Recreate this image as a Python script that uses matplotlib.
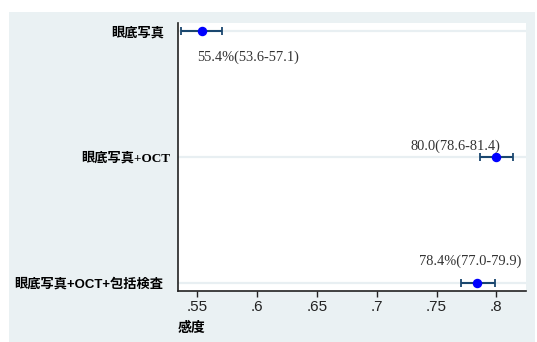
import matplotlib
matplotlib.use("Agg")
import matplotlib.pyplot as plt
from matplotlib.patches import Rectangle
from matplotlib.transforms import ScaledTranslation

# Sensitivity estimates with 95% confidence intervals
categories = ['眼底写真', '眼底写真+OCT', '眼底写真+OCT+包括検査']
sensitivity = [0.554, 0.800, 0.784]
ci_low = [0.536, 0.786, 0.770]
ci_high = [0.571, 0.814, 0.799]
value_labels = ['55.4%(53.6-57.1)', '80.0(78.6-81.4)', '78.4%(77.0-79.9)']

x_ticks = [0.55, 0.6, 0.65, 0.7, 0.75, 0.8]
x_tick_labels = ['.55', '.6', '.65', '.7', '.75', '.8']

# label anchors (x, y offset from row, horizontal alignment)
label_x = [0.55, 0.8033, 0.821]
label_dy = [0.206, -0.087, -0.17]
label_ha = ['left', 'right', 'right']

cjk = 'Noto Sans CJK JP'
label_fonts = [[cjk], ['Liberation Serif', cjk], ['Liberation Sans', cjk]]
label_shift_px = [0, 6, -1]

W, H = 537, 342
fig = plt.figure(figsize=(W / 100, H / 100), dpi=100)
fig.patch.set_facecolor('white')

# graph region background
bg = Rectangle((9 / W, 0), (535 - 9) / W, (342 - 12) / H,
               transform=fig.transFigure, facecolor='#eaf1f3',
               edgecolor='none', zorder=-10)
fig.patches.append(bg)

left, right, top, bottom = 178, 525.5, 23, 290.7
ax = fig.add_axes([left / W, (H - bottom) / H, (right - left) / W, (bottom - top) / H])
ax.set_zorder(1)
ax.set_facecolor('white')

rows = list(range(1, len(categories) + 1))

for r in rows:
    ax.axhline(r, color='#e8eff2', lw=1.6, zorder=1)

err_lo = [s - l for s, l in zip(sensitivity, ci_low)]
err_hi = [h - s for s, h in zip(sensitivity, ci_high)]
ax.errorbar(sensitivity, rows, xerr=[err_lo, err_hi], fmt='none',
            ecolor='#1a476f', elinewidth=1.5, capsize=3.2, capthick=1.3, zorder=2)
ax.plot(sensitivity, rows, 'o', color='#0000ff', markersize=5.8, zorder=3)

for r, txt, lx, dy, ha in zip(rows, value_labels, label_x, label_dy, label_ha):
    ax.text(lx, r + dy, txt, ha=ha, va='center', fontsize=10.4,
            family='Liberation Serif', color='#333333', zorder=4)

ax.set_xlim(0.5339, 0.8243)
ax.set_ylim(3.06, 0.937)

ax.set_xticks(x_ticks)
ax.set_xticklabels(x_tick_labels, family='Liberation Sans', fontsize=11, color='#222222')
ax.tick_params(axis='x', length=4, width=1, color='#222222', pad=3)

ax.set_yticks(rows)
ax.set_yticklabels(categories)
ax.tick_params(axis='y', length=0, pad=10)
for lab, fam, sh in zip(ax.get_yticklabels(), label_fonts, label_shift_px):
    lab.set_family(fam)
    lab.set_fontweight('bold')
    lab.set_fontsize(9.5)
    lab.set_color('black')
    lab.set_transform(lab.get_transform() + ScaledTranslation(sh / 100, 0, fig.dpi_scale_trans))

for s in ['top', 'right']:
    ax.spines[s].set_visible(False)
for s in ['left', 'bottom']:
    ax.spines[s].set_color('#222222')
    ax.spines[s].set_linewidth(1.2)

ax.set_xlabel('感度', loc='left', family=cjk, fontweight='bold', fontsize=10,
              labelpad=5)

fig.savefig('out.png', dpi=100)
